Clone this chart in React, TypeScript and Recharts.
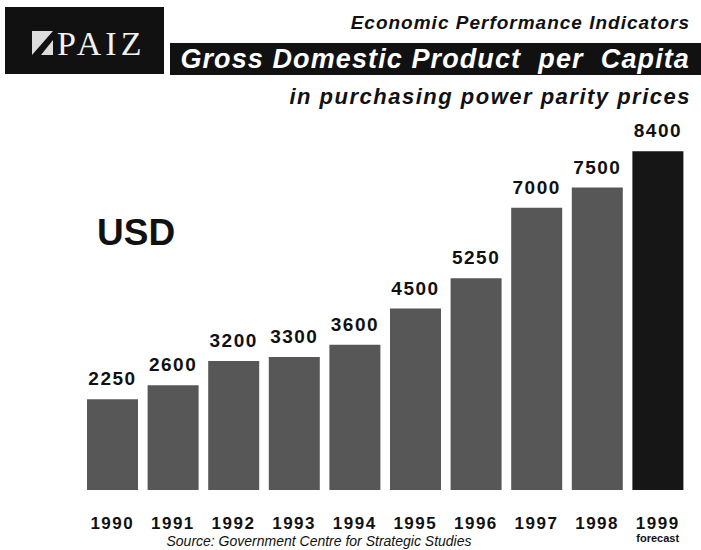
import { Bar, BarChart, Cell, LabelList, XAxis, YAxis } from "recharts";

const years = ["1990", "1991", "1992", "1993", "1994", "1995", "1996", "1997", "1998", "1999"];
const gdpPerCapita = [2250, 2600, 3200, 3300, 3600, 4500, 5250, 7000, 7500, 8400];
const forecastYear = "1999";

const data = years.map((year, i) => ({ year, gdp: gdpPerCapita[i] }));

const sans = "'Liberation Sans', Arial, sans-serif";

function YearTick(props: any) {
  const { x, y, payload } = props;
  return (
    <g>
      <text x={x} y={y + 31} textAnchor="middle" fontFamily={sans} fontWeight="bold"
            fontSize={17} letterSpacing={1.5} fill="#111">
        {payload.value}
      </text>
      {payload.value === forecastYear && (
        <text x={x} y={y + 44} textAnchor="middle" fontFamily={sans} fontWeight="bold"
              fontSize={11} fill="#111">
          forecast
        </text>
      )}
    </g>
  );
}

export default function App() {
  return (
    <div style={{ position: "absolute", left: 0, top: 0, width: 701, height: 550, background: "#fff" }}>
      <BarChart width={701} height={550} data={data}
                margin={{ top: 127, right: 13, bottom: 10, left: 82 }}>
        <XAxis dataKey="year" axisLine={false} tickLine={false} height={50}
               interval={0} tick={<YearTick />} />
        <YAxis hide domain={[0, 9000]} />
        <Bar dataKey="gdp" barSize={51} isAnimationActive={false}>
          {data.map((d) => (
            <Cell key={d.year} fill={d.year === forecastYear ? "#161616" : "#575757"} />
          ))}
          <LabelList dataKey="gdp" position="top" offset={14} fill="#111"
                     style={{ fontFamily: sans, fontWeight: "bold", fontSize: 19, letterSpacing: 1.5 }} />
        </Bar>
      </BarChart>
      <svg width={701} height={550} style={{ position: "absolute", left: 0, top: 0, pointerEvents: "none" }}>
        <rect x={5} y={7} width={159} height={67} fill="#111" />
        <polygon points="32,31 53,31 53,55 32,55" fill="#ddd" />
        <polygon points="32,55 53,31 53,40 41,55" fill="#111" />
        <text x={57} y={55} fontFamily="'Liberation Serif', serif" fontSize={34} letterSpacing={4}
              fill="#f2f2f2">PAIZ</text>
        <text x={690} y={29} textAnchor="end" fontFamily={sans} fontWeight="bold" fontStyle="italic"
              fontSize={19} letterSpacing={1} fill="#111">Economic Performance Indicators</text>
        <rect x={170} y={43} width={531} height={32} fill="#111" />
        <text x={690} y={68} textAnchor="end" fontFamily={sans} fontWeight="bold" fontStyle="italic"
              fontSize={27} letterSpacing={1.1} fill="#fff" style={{ whiteSpace: "pre" }}>
          {"Gross Domestic Product  per  Capita"}
        </text>
        <text x={691} y={104} textAnchor="end" fontFamily={sans} fontWeight="bold" fontStyle="italic"
              fontSize={22} letterSpacing={1.5} fill="#111">in purchasing power parity prices</text>
        <text x={97} y={245} fontFamily={sans} fontWeight="bold" fontSize={37} fill="#111">USD</text>
        <text x={319} y={546} textAnchor="middle" fontFamily={sans} fontStyle="italic"
              fontSize={14} fill="#111">Source: Government Centre for Strategic Studies</text>
      </svg>
    </div>
  );
}
